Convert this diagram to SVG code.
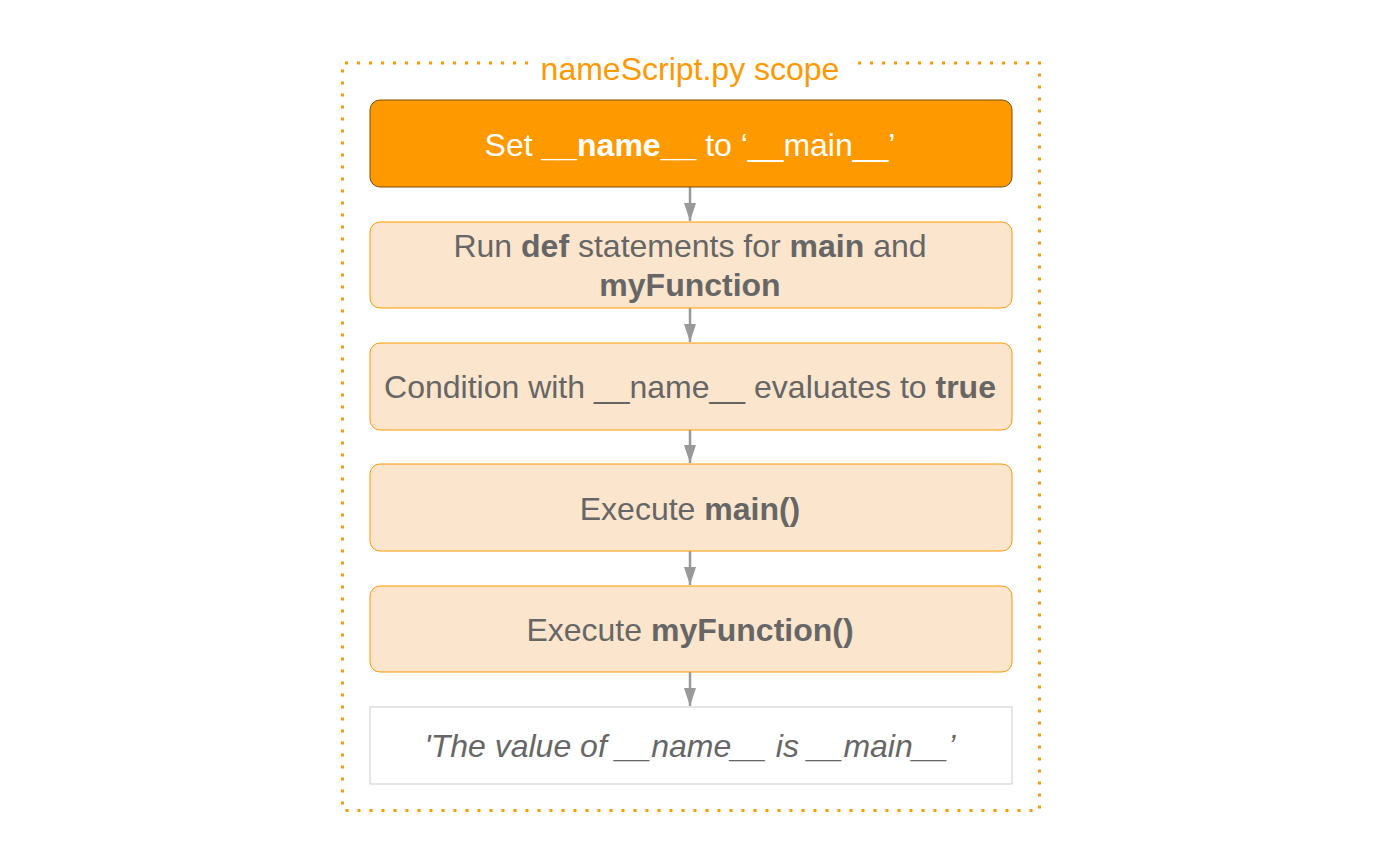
<svg xmlns="http://www.w3.org/2000/svg" width="1382" height="860" viewBox="0 0 1382 860">
<style>
text{font-family:"Liberation Sans",Arial,sans-serif;font-size:32px;text-anchor:middle}
.t{fill:#666666}
.w{fill:#ffffff}
.b{font-weight:bold}
.step{fill:#fce5cd;stroke:#ff9900;stroke-width:1}
.conn{stroke:#999999;stroke-width:2.5;fill:none;marker-end:url(#ah)}
</style>
<defs>
<marker id="ah" markerWidth="18" markerHeight="14" refX="18" refY="7" orient="auto" markerUnits="userSpaceOnUse" viewBox="0 0 18 14">
<path d="M0,1 L18,7 L0,13 Z" fill="#999999"/>
</marker>
</defs>
<g id="scope">
<path d="M528,63 H342.5 V810.5 H1039.5 V63 H852" fill="none" stroke="#ff9900" stroke-width="3" stroke-dasharray="3 9"/>
<text x="690" y="80" fill="#ff9900">nameScript.py scope</text>
</g>
<g id="connectors">
<line class="conn" x1="690" y1="187" x2="690" y2="221"/>
<line class="conn" x1="690" y1="308" x2="690" y2="342"/>
<line class="conn" x1="690" y1="430" x2="690" y2="463"/>
<line class="conn" x1="690" y1="551" x2="690" y2="585"/>
<line class="conn" x1="690" y1="672" x2="690" y2="706"/>
</g>
<g id="n1">
<rect x="370" y="100" width="642" height="87" rx="10" fill="#ff9900" stroke="#7f4f00" stroke-width="1"/>
<text x="690" y="156" class="w">Set <tspan class="b">__name__</tspan> to ‘__main__’</text>
</g>
<g id="n2">
<rect class="step" x="370" y="222" width="642" height="86" rx="10"/>
<text x="690" y="257" class="t">Run <tspan class="b">def</tspan> statements for <tspan class="b">main</tspan> and</text>
<text x="690" y="296" class="t b">myFunction</text>
</g>
<g id="n3">
<rect class="step" x="370" y="343" width="642" height="87" rx="10"/>
<text x="690" y="398" class="t">Condition with __name__ evaluates to <tspan class="b">true</tspan></text>
</g>
<g id="n4">
<rect class="step" x="370" y="464" width="642" height="87" rx="10"/>
<text x="690" y="520" class="t">Execute <tspan class="b">main()</tspan></text>
</g>
<g id="n5">
<rect class="step" x="370" y="586" width="642" height="86" rx="10"/>
<text x="690" y="641" class="t">Execute <tspan class="b">myFunction()</tspan></text>
</g>
<g id="n6">
<rect x="370" y="707" width="642" height="77" fill="#ffffff" stroke="#cccccc" stroke-width="1"/>
<text x="690" y="757" class="t" font-style="italic">'The value of __name__ is __main__’</text>
</g>
</svg>
